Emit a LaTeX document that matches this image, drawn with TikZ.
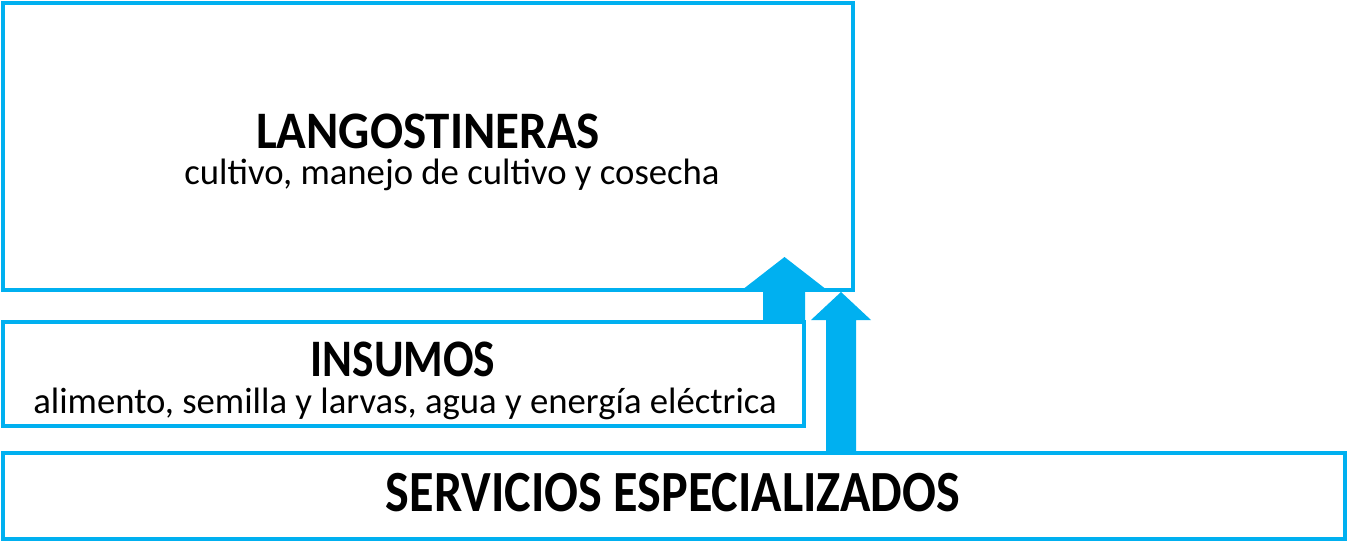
\documentclass[tikz,border=0pt]{standalone}
\usepackage{fontspec}
\setmainfont{Carlito}
\newfontfamily\titlefont[FakeStretch=0.86]{Carlito}
\newfontfamily\titlefontancho[FakeStretch=0.93]{Carlito}
\definecolor{celeste}{RGB}{0,176,240}
\tikzset{
  caja/.style={draw=celeste,line width=1.1pt},
  flecha/.style={fill=celeste},
  titulo/.style={anchor=base,inner sep=0pt,font=\titlefont\bfseries\fontsize{15}{18}\selectfont},
  detalle/.style={anchor=base,inner sep=0pt,font=\fontsize{10.45}{12}\selectfont}
}
\begin{document}
\begin{tikzpicture}
	\useasboundingbox (0,0) rectangle (13.48,5.42);
	% cajas
	\draw [caja] (0.03,2.52) rectangle (8.53,5.39);
	\draw [caja] (0.03,1.16) rectangle (8.04,2.20);
	\draw [caja] (0.03,0.03) rectangle (13.45,0.89);
	% flechas
	\fill [flecha] (7.63,2.20)--(7.63,2.52)--(7.42,2.52)--(7.845,2.85)--(8.27,2.52)--(8.05,2.52)--(8.05,2.20)--cycle;
	\fill [flecha] (8.26,0.89)--(8.26,2.22)--(8.11,2.22)--(8.41,2.50)--(8.71,2.22)--(8.56,2.22)--(8.56,0.89)--cycle;
	% textos
	\node [titulo,font=\titlefontancho\bfseries\fontsize{15}{18}\selectfont] (lang) at (4.28,3.94) {LANGOSTINERAS};
	\node [detalle] (langdet) at (4.52,3.58) {cultivo, manejo de cultivo y cosecha};
	\node [titulo] (ins) at (4.03,1.66) {INSUMOS};
	\node [detalle] (insdet) at (4.05,1.29) {alimento, semilla y larvas, agua y energía eléctrica};
	\node [titulo,font=\titlefont\bfseries\fontsize{16.6}{19}\selectfont] (serv) at (6.73,0.31) {SERVICIOS ESPECIALIZADOS};
\end{tikzpicture}
\end{document}
